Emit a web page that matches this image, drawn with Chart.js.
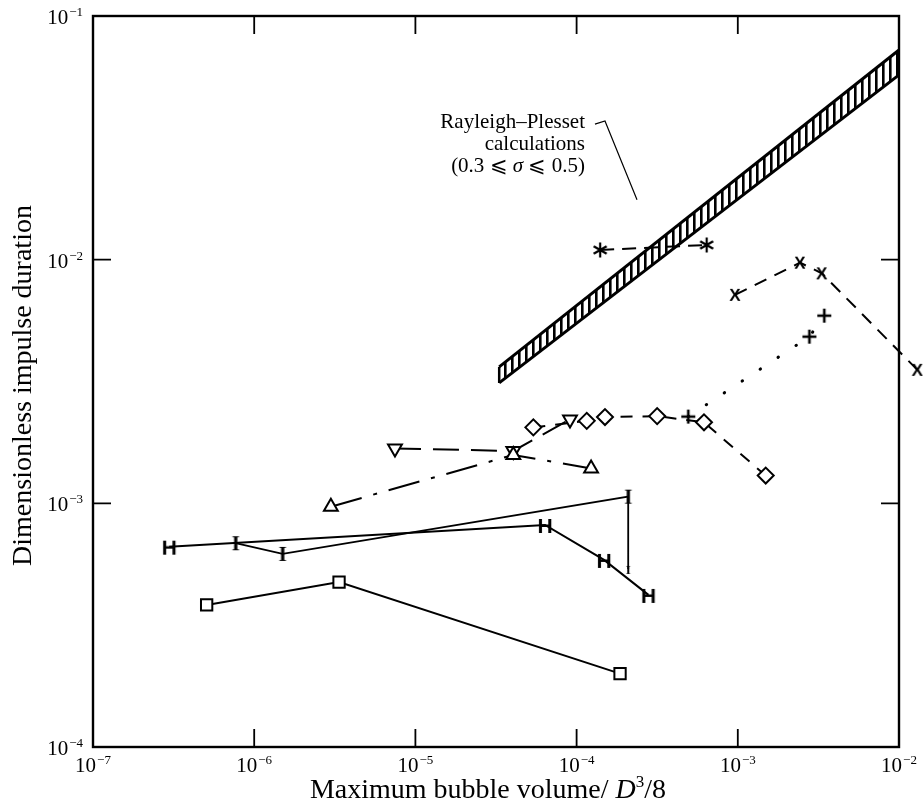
<!DOCTYPE html>
<html>
<head>
<meta charset="utf-8">
<script src="https://cdn.jsdelivr.net/npm/chart.js@4.4.0/dist/chart.umd.min.js"></script>
<style>
html, body { margin: 0; padding: 0; background: #fff; }
#chart { display: block; }
</style>
</head>
<body>
<canvas id="chart" width="923" height="806"></canvas>
<script>
// axis decades
const xTicks = [1e-7, 1e-6, 1e-5, 1e-4, 1e-3, 1e-2]
const xTickExp = ['\u22127', '\u22126', '\u22125', '\u22124', '\u22123', '\u22122']
const yTicks = [1e-4, 1e-3, 1e-2, 1e-1]
const yTickExp = ['\u22124', '\u22123', '\u22122', '\u22121']

// measured series (x = max bubble volume, y = impulse duration)
const squareX = [5.07e-7, 3.36e-6, 1.86e-4]
const squareY = [3.83e-4, 4.75e-4, 2.0e-4]
const hX = [2.97e-7, 6.37e-5, 1.48e-4, 2.79e-4]
const hY = [6.64e-4, 8.15e-4, 5.86e-4, 4.21e-4]
const iX = [7.67e-7, 1.50e-6, 2.09e-4, 2.09e-4]
const iY = [6.86e-4, 6.20e-4, 1.065e-3, 5.38e-4]
const triUpX = [2.99e-6, 4.05e-5, 1.23e-4]
const triUpY = [9.69e-4, 1.58e-3, 1.39e-3]
const triDownX = [7.47e-6, 4.05e-5, 9.1e-5]
const triDownY = [1.68e-3, 1.64e-3, 2.21e-3]
const diamondX = [5.39e-5, 1.156e-4, 1.50e-4, 3.16e-4, 6.17e-4, 1.49e-3]
const diamondY = [2.05e-3, 2.18e-3, 2.26e-3, 2.28e-3, 2.15e-3, 1.30e-3]
const plusX = [4.93e-4, 2.78e-3, 3.44e-3]
const plusY = [2.27e-3, 4.83e-3, 5.89e-3]
const starX = [1.40e-4, 6.41e-4]
const starY = [1.096e-2, 1.149e-2]
const crossX = [9.61e-4, 2.43e-3, 3.32e-3, 1.30e-2]
const crossY = [7.17e-3, 9.72e-3, 8.79e-3, 3.53e-3]

// Rayleigh-Plesset band (sigma 0.3 .. 0.5)
const bandX = [3.31e-5, 1e-2]
const bandUpper = [3.63e-3, 7.25e-2]
const bandLower = [3.12e-3, 5.73e-2]

// label leader
const leaderX = [1.30e-4, 1.50e-4, 2.37e-4]
const leaderY = [3.60e-2, 3.71e-2, 1.76e-2]
const noteX = 1.127e-4
const noteY = 3.47e-2

const SERIF = '"Liberation Serif", "Times New Roman", serif'
const SANS = '"Liberation Sans", Arial, sans-serif'

function pts(xs, ys) {
	return xs.map((x, i) => ({ x: x, y: ys[i] }))
}

// letter markers drawn into small canvases
function glyph(ch, font, size, dy) {
	const c = document.createElement('canvas')
	c.width = size
	c.height = size
	const g = c.getContext('2d')
	g.fillStyle = '#000'
	g.font = font
	g.textAlign = 'center'
	g.textBaseline = 'alphabetic'
	g.fillText(ch, size / 2, size / 2 + dy)
	return c
}

// stroked symbol markers (+ and six-armed *)
function strokes(size, arms, len, width) {
	const c = document.createElement('canvas')
	c.width = size
	c.height = size
	const g = c.getContext('2d')
	g.strokeStyle = '#000'
	g.lineWidth = width
	g.beginPath()
	arms.forEach(deg => {
		const r = deg * Math.PI / 180
		const dx = Math.cos(r) * len / 2
		const dy = Math.sin(r) * len / 2
		g.moveTo(size / 2 - dx, size / 2 - dy)
		g.lineTo(size / 2 + dx, size / 2 + dy)
	})
	g.stroke()
	return c
}

const markH = glyph('H', 'bold 21px ' + SANS, 26, 7.5)
const markI = glyph('I', 'bold 21px ' + SERIF, 26, 7)
const markIsmall = glyph('I', 'bold 13px ' + SERIF, 16, 4.5)
const markX = glyph('X', 'bold 17px ' + SANS, 24, 6)
const markPlus = strokes(24, [0, 90], 14, 2.6)
const markStar = strokes(24, [90, 30, 150], 15, 2.2)

// vertical hatching for the band
function hatch() {
	const c = document.createElement('canvas')
	c.width = 7
	c.height = 8
	const g = c.getContext('2d')
	g.fillStyle = '#000'
	g.fillRect(0, 0, 2.6, 8)
	return g.createPattern(c, 'repeat')
}

function series(data, opts) {
	return Object.assign({
		data: data,
		showLine: true,
		borderColor: '#000',
		borderWidth: 2,
		pointBorderColor: '#000',
		pointBackgroundColor: '#fff',
		pointBorderWidth: 2,
		fill: false,
		tension: 0
	}, opts)
}

function drawPow(ctx, exp, x, baseline, align) {
	ctx.font = '21px ' + SERIF
	const w1 = ctx.measureText('10').width
	ctx.font = '13px ' + SERIF
	const w2 = ctx.measureText(exp).width
	const total = w1 + 1 + w2
	let left = x - total / 2
	if (align === 'right') left = x - total
	ctx.textAlign = 'left'
	ctx.textBaseline = 'alphabetic'
	ctx.font = '21px ' + SERIF
	ctx.fillText('10', left, baseline)
	ctx.font = '13px ' + SERIF
	ctx.fillText(exp, left + w1 + 1, baseline - 8)
}

const framePlugin = {
	id: 'frame',
	afterDatasetsDraw(chart) {
		const ctx = chart.ctx
		const a = chart.chartArea
		const sx = chart.scales.x
		const sy = chart.scales.y
		ctx.save()
		ctx.fillStyle = '#000'
		ctx.strokeStyle = '#000'

		// frame
		ctx.lineWidth = 2.4
		ctx.strokeRect(a.left, a.top, a.right - a.left, a.bottom - a.top)

		// inward ticks on all four sides
		ctx.lineWidth = 1.8
		const len = 18
		ctx.beginPath()
		xTicks.slice(1, -1).forEach(v => {
			const px = sx.getPixelForValue(v)
			ctx.moveTo(px, a.bottom); ctx.lineTo(px, a.bottom - len)
			ctx.moveTo(px, a.top); ctx.lineTo(px, a.top + len)
		})
		yTicks.slice(1, -1).forEach(v => {
			const py = sy.getPixelForValue(v)
			ctx.moveTo(a.left, py); ctx.lineTo(a.left + len, py)
			ctx.moveTo(a.right, py); ctx.lineTo(a.right - len, py)
		})
		ctx.stroke()

		// tick labels
		xTicks.forEach((v, i) => {
			drawPow(ctx, xTickExp[i], sx.getPixelForValue(v), a.bottom + 25, 'center')
		})
		yTicks.forEach((v, i) => {
			drawPow(ctx, yTickExp[i], a.left - 10, sy.getPixelForValue(v) + 8, 'right')
		})

		// x title with italic D
		const parts = [
			['Maximum bubble volume/ ', '28px ' + SERIF, 0],
			['D', 'italic 28px ' + SERIF, 0],
			['3', '17px ' + SERIF, -11],
			['/8', '28px ' + SERIF, 0]
		]
		let tw = 0
		parts.forEach(p => { ctx.font = p[1]; tw += ctx.measureText(p[0]).width })
		let tx = (a.left + a.right) / 2 - 8 - tw / 2
		ctx.textAlign = 'left'
		parts.forEach(p => {
			ctx.font = p[1]
			ctx.fillText(p[0], tx, 798 + p[2])
			tx += ctx.measureText(p[0]).width
		})

		// y title
		ctx.save()
		ctx.translate(31, (a.top + a.bottom) / 2 + 4)
		ctx.rotate(-Math.PI / 2)
		ctx.textAlign = 'center'
		ctx.font = '28px ' + SERIF
		ctx.fillText('Dimensionless impulse duration', 0, 0)
		ctx.restore()

		// band note
		const nx = sx.getPixelForValue(noteX)
		const ny = sy.getPixelForValue(noteY)
		ctx.font = '21px ' + SERIF
		ctx.textAlign = 'right'
		ctx.fillText('Rayleigh\u2013Plesset', nx, ny)
		ctx.fillText('calculations', nx, ny + 22)
		const line3 = [
			['(0.3 \u2A7D ', '21px ' + SERIF],
			['\u03C3', 'italic 21px ' + SERIF],
			[' \u2A7D 0.5)', '21px ' + SERIF]
		]
		let lw = 0
		line3.forEach(p => { ctx.font = p[1]; lw += ctx.measureText(p[0]).width })
		let lx = nx - lw
		ctx.textAlign = 'left'
		line3.forEach(p => {
			ctx.font = p[1]
			ctx.fillText(p[0], lx, ny + 44)
			lx += ctx.measureText(p[0]).width
		})
		ctx.restore()
	}
}

new Chart(document.getElementById('chart'), {
	type: 'scatter',
	data: {
		datasets: [
			series(pts(bandX, bandUpper), { borderWidth: 3, pointRadius: 0 }),
			series(pts(bandX, bandLower), { borderWidth: 3, pointRadius: 0, fill: '-1', backgroundColor: hatch() }),
			series(pts([bandX[0], bandX[0]], [bandUpper[0], bandLower[0]]), { borderWidth: 2.5, pointRadius: 0 }),
			series(pts(leaderX, leaderY), { borderWidth: 1.2, pointRadius: 0 }),
			series(pts(squareX, squareY), { pointStyle: 'rect', pointRadius: 8 }),
			series(pts(hX, hY), { pointStyle: markH, pointRadius: 10 }),
			series(pts(iX, iY), { pointStyle: [markI, markI, markI, markIsmall], pointRadius: 10, borderWidth: 1.8 }),
			series(pts(triUpX, triUpY), { pointStyle: 'triangle', pointRadius: 8, borderDash: [32, 12, 4, 12] }),
			series(pts(triDownX, triDownY), { pointStyle: 'triangle', pointRotation: 180, pointRadius: 8, borderDash: [26, 12] }),
			series(pts(diamondX, diamondY), { pointStyle: 'rectRot', pointRadius: 8, borderDash: [12, 10] }),
			series(pts(plusX, plusY), { pointStyle: markPlus, pointRadius: 10, borderWidth: 3, borderDash: [0.5, 21], borderCapStyle: 'round' }),
			series(pts(starX, starY), { pointStyle: markStar, pointRadius: 10, borderDash: [14, 8] }),
			series(pts(crossX, crossY), { pointStyle: markX, pointRadius: [10, 10, 10, 24], borderDash: [13, 9], clip: false })
		]
	},
	options: {
		responsive: false,
		devicePixelRatio: 1,
		animation: false,
		layout: { autoPadding: false, padding: { left: 93, right: 24, top: 16, bottom: 59 } },
		plugins: {
			legend: { display: false },
			tooltip: { enabled: false }
		},
		scales: {
			x: { type: 'logarithmic', min: 1e-7, max: 1e-2, display: false },
			y: { type: 'logarithmic', min: 1e-4, max: 1e-1, display: false }
		}
	},
	plugins: [framePlugin]
})
</script>
</body>
</html>
